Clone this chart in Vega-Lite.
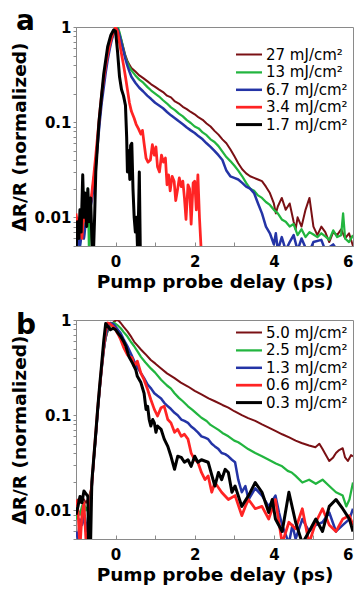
{
  "$schema": "https://vega.github.io/schema/vega-lite/v6.json",
  "padding": {"left": 10, "top": 7, "right": 4, "bottom": 2},
  "spacing": 20,
  "config": {
    "font": "DejaVu Sans",
    "view": {"stroke": "#8a8a8a"},
    "axis": {"domainColor": "#8a8a8a", "tickColor": "#8a8a8a", "labelFont": "DejaVu Sans", "labelFontWeight": "bold", "labelFontSize": 15, "labelColor": "black", "titleFont": "DejaVu Sans", "titleFontWeight": "bold", "titleFontSize": 18.5, "titleColor": "black", "grid": false},
    "legend": {"padding": 0, "symbolType": "M-2,0H2", "symbolSize": 169, "labelFont": "DejaVu Sans", "labelFontSize": 15, "labelColor": "black", "labelOffset": 9}
  },
  "vconcat": [
    {
      "width": 277, "height": 219,
      "title": {"text": "a", "anchor": "start", "frame": "bounds", "fontSize": 28, "fontWeight": "bold", "font": "DejaVu Sans", "baseline": "alphabetic", "offset": -38, "dx": 5},
      "data": {"values": [
        {"s":"27 mJ/cm²","x":-1,"y":0.006},{"s":"27 mJ/cm²","x":-0.95,"y":0.009},{"s":"27 mJ/cm²","x":-0.9,"y":0.007},{"s":"27 mJ/cm²","x":-0.85,"y":0.011},{"s":"27 mJ/cm²","x":-0.8,"y":0.009},{"s":"27 mJ/cm²","x":-0.75,"y":0.012},{"s":"27 mJ/cm²","x":-0.7,"y":0.01},{"s":"27 mJ/cm²","x":-0.65,"y":0.013},{"s":"27 mJ/cm²","x":-0.6,"y":0.017},{"s":"27 mJ/cm²","x":-0.55,"y":0.026},{"s":"27 mJ/cm²","x":-0.5,"y":0.04},{"s":"27 mJ/cm²","x":-0.45,"y":0.07},{"s":"27 mJ/cm²","x":-0.4,"y":0.12},{"s":"27 mJ/cm²","x":-0.35,"y":0.19},{"s":"27 mJ/cm²","x":-0.3,"y":0.27},{"s":"27 mJ/cm²","x":-0.25,"y":0.38},{"s":"27 mJ/cm²","x":-0.2,"y":0.5},{"s":"27 mJ/cm²","x":-0.15,"y":0.63},{"s":"27 mJ/cm²","x":-0.1,"y":0.76},{"s":"27 mJ/cm²","x":-0.05,"y":0.88},{"s":"27 mJ/cm²","x":0.02,"y":1.0},{"s":"27 mJ/cm²","x":0.05,"y":0.97},{"s":"27 mJ/cm²","x":0.1,"y":0.85},{"s":"27 mJ/cm²","x":0.15,"y":0.72},{"s":"27 mJ/cm²","x":0.2,"y":0.6},{"s":"27 mJ/cm²","x":0.25,"y":0.5},{"s":"27 mJ/cm²","x":0.3,"y":0.44},{"s":"27 mJ/cm²","x":0.35,"y":0.4},{"s":"27 mJ/cm²","x":0.4,"y":0.37},{"s":"27 mJ/cm²","x":0.5,"y":0.34},{"s":"27 mJ/cm²","x":0.6,"y":0.31},{"s":"27 mJ/cm²","x":0.7,"y":0.29},{"s":"27 mJ/cm²","x":0.8,"y":0.27},{"s":"27 mJ/cm²","x":0.9,"y":0.25},{"s":"27 mJ/cm²","x":1.0,"y":0.235},{"s":"27 mJ/cm²","x":1.1,"y":0.22},{"s":"27 mJ/cm²","x":1.2,"y":0.207},{"s":"27 mJ/cm²","x":1.3,"y":0.19},{"s":"27 mJ/cm²","x":1.4,"y":0.182},{"s":"27 mJ/cm²","x":1.5,"y":0.165},{"s":"27 mJ/cm²","x":1.6,"y":0.157},{"s":"27 mJ/cm²","x":1.7,"y":0.145},{"s":"27 mJ/cm²","x":1.8,"y":0.137},{"s":"27 mJ/cm²","x":1.9,"y":0.128},{"s":"27 mJ/cm²","x":2.0,"y":0.121},{"s":"27 mJ/cm²","x":2.1,"y":0.112},{"s":"27 mJ/cm²","x":2.2,"y":0.106},{"s":"27 mJ/cm²","x":2.3,"y":0.097},{"s":"27 mJ/cm²","x":2.4,"y":0.09},{"s":"27 mJ/cm²","x":2.5,"y":0.081},{"s":"27 mJ/cm²","x":2.6,"y":0.074},{"s":"27 mJ/cm²","x":2.7,"y":0.066},{"s":"27 mJ/cm²","x":2.8,"y":0.06},{"s":"27 mJ/cm²","x":2.9,"y":0.052},{"s":"27 mJ/cm²","x":3.0,"y":0.044},{"s":"27 mJ/cm²","x":3.1,"y":0.037},{"s":"27 mJ/cm²","x":3.2,"y":0.032},{"s":"27 mJ/cm²","x":3.3,"y":0.029},{"s":"27 mJ/cm²","x":3.4,"y":0.027},{"s":"27 mJ/cm²","x":3.5,"y":0.026},{"s":"27 mJ/cm²","x":3.6,"y":0.025},{"s":"27 mJ/cm²","x":3.7,"y":0.024},{"s":"27 mJ/cm²","x":3.8,"y":0.021},{"s":"27 mJ/cm²","x":3.9,"y":0.018},{"s":"27 mJ/cm²","x":4.0,"y":0.014},{"s":"27 mJ/cm²","x":4.05,"y":0.011},{"s":"27 mJ/cm²","x":4.1,"y":0.013},{"s":"27 mJ/cm²","x":4.2,"y":0.016},{"s":"27 mJ/cm²","x":4.3,"y":0.012},{"s":"27 mJ/cm²","x":4.4,"y":0.014},{"s":"27 mJ/cm²","x":4.5,"y":0.009},{"s":"27 mJ/cm²","x":4.55,"y":0.0075},{"s":"27 mJ/cm²","x":4.6,"y":0.01},{"s":"27 mJ/cm²","x":4.7,"y":0.008},{"s":"27 mJ/cm²","x":4.8,"y":0.012},{"s":"27 mJ/cm²","x":4.9,"y":0.016},{"s":"27 mJ/cm²","x":5.0,"y":0.008},{"s":"27 mJ/cm²","x":5.1,"y":0.0065},{"s":"27 mJ/cm²","x":5.2,"y":0.008},{"s":"27 mJ/cm²","x":5.3,"y":0.007},{"s":"27 mJ/cm²","x":5.4,"y":0.0055},{"s":"27 mJ/cm²","x":5.5,"y":0.007},{"s":"27 mJ/cm²","x":5.6,"y":0.0065},{"s":"27 mJ/cm²","x":5.7,"y":0.0075},{"s":"27 mJ/cm²","x":5.8,"y":0.006},{"s":"27 mJ/cm²","x":5.9,"y":0.0068},{"s":"27 mJ/cm²","x":6.0,"y":0.005},

        {"s":"13 mJ/cm²","x":-1,"y":0.004},{"s":"13 mJ/cm²","x":-0.95,"y":0.006},{"s":"13 mJ/cm²","x":-0.9,"y":0.005},{"s":"13 mJ/cm²","x":-0.85,"y":0.008},{"s":"13 mJ/cm²","x":-0.8,"y":0.006},{"s":"13 mJ/cm²","x":-0.75,"y":0.012},{"s":"13 mJ/cm²","x":-0.7,"y":0.02},{"s":"13 mJ/cm²","x":-0.67,"y":0.004},{"s":"13 mJ/cm²","x":-0.63,"y":0.014},{"s":"13 mJ/cm²","x":-0.6,"y":0.017},{"s":"13 mJ/cm²","x":-0.55,"y":0.026},{"s":"13 mJ/cm²","x":-0.5,"y":0.04},{"s":"13 mJ/cm²","x":-0.45,"y":0.068},{"s":"13 mJ/cm²","x":-0.4,"y":0.115},{"s":"13 mJ/cm²","x":-0.35,"y":0.18},{"s":"13 mJ/cm²","x":-0.3,"y":0.26},{"s":"13 mJ/cm²","x":-0.25,"y":0.37},{"s":"13 mJ/cm²","x":-0.2,"y":0.49},{"s":"13 mJ/cm²","x":-0.15,"y":0.62},{"s":"13 mJ/cm²","x":-0.1,"y":0.75},{"s":"13 mJ/cm²","x":-0.05,"y":0.87},{"s":"13 mJ/cm²","x":0.03,"y":1.0},{"s":"13 mJ/cm²","x":0.06,"y":0.99},{"s":"13 mJ/cm²","x":0.1,"y":0.88},{"s":"13 mJ/cm²","x":0.15,"y":0.72},{"s":"13 mJ/cm²","x":0.2,"y":0.58},{"s":"13 mJ/cm²","x":0.25,"y":0.48},{"s":"13 mJ/cm²","x":0.3,"y":0.42},{"s":"13 mJ/cm²","x":0.35,"y":0.38},{"s":"13 mJ/cm²","x":0.4,"y":0.35},{"s":"13 mJ/cm²","x":0.5,"y":0.31},{"s":"13 mJ/cm²","x":0.6,"y":0.28},{"s":"13 mJ/cm²","x":0.7,"y":0.26},{"s":"13 mJ/cm²","x":0.8,"y":0.235},{"s":"13 mJ/cm²","x":0.9,"y":0.215},{"s":"13 mJ/cm²","x":1.0,"y":0.2},{"s":"13 mJ/cm²","x":1.1,"y":0.186},{"s":"13 mJ/cm²","x":1.2,"y":0.17},{"s":"13 mJ/cm²","x":1.3,"y":0.157},{"s":"13 mJ/cm²","x":1.4,"y":0.143},{"s":"13 mJ/cm²","x":1.5,"y":0.134},{"s":"13 mJ/cm²","x":1.6,"y":0.123},{"s":"13 mJ/cm²","x":1.7,"y":0.115},{"s":"13 mJ/cm²","x":1.8,"y":0.105},{"s":"13 mJ/cm²","x":1.9,"y":0.098},{"s":"13 mJ/cm²","x":2.0,"y":0.09},{"s":"13 mJ/cm²","x":2.1,"y":0.086},{"s":"13 mJ/cm²","x":2.2,"y":0.078},{"s":"13 mJ/cm²","x":2.3,"y":0.073},{"s":"13 mJ/cm²","x":2.4,"y":0.066},{"s":"13 mJ/cm²","x":2.5,"y":0.062},{"s":"13 mJ/cm²","x":2.6,"y":0.056},{"s":"13 mJ/cm²","x":2.7,"y":0.049},{"s":"13 mJ/cm²","x":2.8,"y":0.043},{"s":"13 mJ/cm²","x":2.9,"y":0.039},{"s":"13 mJ/cm²","x":3.0,"y":0.035},{"s":"13 mJ/cm²","x":3.1,"y":0.031},{"s":"13 mJ/cm²","x":3.2,"y":0.027},{"s":"13 mJ/cm²","x":3.3,"y":0.023},{"s":"13 mJ/cm²","x":3.4,"y":0.02},{"s":"13 mJ/cm²","x":3.5,"y":0.019},{"s":"13 mJ/cm²","x":3.6,"y":0.017},{"s":"13 mJ/cm²","x":3.7,"y":0.016},{"s":"13 mJ/cm²","x":3.8,"y":0.0145},{"s":"13 mJ/cm²","x":3.9,"y":0.0135},{"s":"13 mJ/cm²","x":4.0,"y":0.012},{"s":"13 mJ/cm²","x":4.1,"y":0.011},{"s":"13 mJ/cm²","x":4.2,"y":0.0095},{"s":"13 mJ/cm²","x":4.3,"y":0.009},{"s":"13 mJ/cm²","x":4.4,"y":0.008},{"s":"13 mJ/cm²","x":4.5,"y":0.0085},{"s":"13 mJ/cm²","x":4.6,"y":0.0065},{"s":"13 mJ/cm²","x":4.7,"y":0.0075},{"s":"13 mJ/cm²","x":4.8,"y":0.0062},{"s":"13 mJ/cm²","x":4.9,"y":0.007},{"s":"13 mJ/cm²","x":5.0,"y":0.0066},{"s":"13 mJ/cm²","x":5.1,"y":0.0062},{"s":"13 mJ/cm²","x":5.2,"y":0.0068},{"s":"13 mJ/cm²","x":5.3,"y":0.0063},{"s":"13 mJ/cm²","x":5.4,"y":0.0058},{"s":"13 mJ/cm²","x":5.5,"y":0.0073},{"s":"13 mJ/cm²","x":5.6,"y":0.0062},{"s":"13 mJ/cm²","x":5.7,"y":0.0065},{"s":"13 mJ/cm²","x":5.75,"y":0.011},{"s":"13 mJ/cm²","x":5.8,"y":0.006},{"s":"13 mJ/cm²","x":5.9,"y":0.0055},{"s":"13 mJ/cm²","x":6.0,"y":0.0065},

        {"s":"6.7 mJ/cm²","x":-1,"y":0.004},{"s":"6.7 mJ/cm²","x":-0.95,"y":0.006},{"s":"6.7 mJ/cm²","x":-0.9,"y":0.005},{"s":"6.7 mJ/cm²","x":-0.85,"y":0.007},{"s":"6.7 mJ/cm²","x":-0.8,"y":0.006},{"s":"6.7 mJ/cm²","x":-0.75,"y":0.009},{"s":"6.7 mJ/cm²","x":-0.7,"y":0.011},{"s":"6.7 mJ/cm²","x":-0.65,"y":0.012},{"s":"6.7 mJ/cm²","x":-0.6,"y":0.015},{"s":"6.7 mJ/cm²","x":-0.55,"y":0.022},{"s":"6.7 mJ/cm²","x":-0.5,"y":0.035},{"s":"6.7 mJ/cm²","x":-0.45,"y":0.06},{"s":"6.7 mJ/cm²","x":-0.4,"y":0.1},{"s":"6.7 mJ/cm²","x":-0.35,"y":0.16},{"s":"6.7 mJ/cm²","x":-0.3,"y":0.23},{"s":"6.7 mJ/cm²","x":-0.25,"y":0.33},{"s":"6.7 mJ/cm²","x":-0.2,"y":0.45},{"s":"6.7 mJ/cm²","x":-0.15,"y":0.58},{"s":"6.7 mJ/cm²","x":-0.1,"y":0.72},{"s":"6.7 mJ/cm²","x":-0.05,"y":0.86},{"s":"6.7 mJ/cm²","x":0.0,"y":0.98},{"s":"6.7 mJ/cm²","x":0.05,"y":0.95},{"s":"6.7 mJ/cm²","x":0.1,"y":0.82},{"s":"6.7 mJ/cm²","x":0.15,"y":0.68},{"s":"6.7 mJ/cm²","x":0.2,"y":0.56},{"s":"6.7 mJ/cm²","x":0.25,"y":0.46},{"s":"6.7 mJ/cm²","x":0.3,"y":0.39},{"s":"6.7 mJ/cm²","x":0.35,"y":0.34},{"s":"6.7 mJ/cm²","x":0.4,"y":0.3},{"s":"6.7 mJ/cm²","x":0.5,"y":0.26},{"s":"6.7 mJ/cm²","x":0.6,"y":0.23},{"s":"6.7 mJ/cm²","x":0.7,"y":0.21},{"s":"6.7 mJ/cm²","x":0.8,"y":0.19},{"s":"6.7 mJ/cm²","x":0.9,"y":0.175},{"s":"6.7 mJ/cm²","x":1.0,"y":0.16},{"s":"6.7 mJ/cm²","x":1.1,"y":0.15},{"s":"6.7 mJ/cm²","x":1.2,"y":0.14},{"s":"6.7 mJ/cm²","x":1.3,"y":0.128},{"s":"6.7 mJ/cm²","x":1.4,"y":0.118},{"s":"6.7 mJ/cm²","x":1.5,"y":0.11},{"s":"6.7 mJ/cm²","x":1.6,"y":0.102},{"s":"6.7 mJ/cm²","x":1.7,"y":0.095},{"s":"6.7 mJ/cm²","x":1.8,"y":0.088},{"s":"6.7 mJ/cm²","x":1.9,"y":0.082},{"s":"6.7 mJ/cm²","x":2.0,"y":0.077},{"s":"6.7 mJ/cm²","x":2.1,"y":0.071},{"s":"6.7 mJ/cm²","x":2.2,"y":0.066},{"s":"6.7 mJ/cm²","x":2.3,"y":0.06},{"s":"6.7 mJ/cm²","x":2.4,"y":0.055},{"s":"6.7 mJ/cm²","x":2.5,"y":0.05},{"s":"6.7 mJ/cm²","x":2.6,"y":0.045},{"s":"6.7 mJ/cm²","x":2.7,"y":0.04},{"s":"6.7 mJ/cm²","x":2.8,"y":0.031},{"s":"6.7 mJ/cm²","x":2.9,"y":0.027},{"s":"6.7 mJ/cm²","x":3.0,"y":0.026},{"s":"6.7 mJ/cm²","x":3.1,"y":0.025},{"s":"6.7 mJ/cm²","x":3.2,"y":0.023},{"s":"6.7 mJ/cm²","x":3.3,"y":0.021},{"s":"6.7 mJ/cm²","x":3.4,"y":0.02},{"s":"6.7 mJ/cm²","x":3.5,"y":0.018},{"s":"6.7 mJ/cm²","x":3.6,"y":0.014},{"s":"6.7 mJ/cm²","x":3.7,"y":0.011},{"s":"6.7 mJ/cm²","x":3.8,"y":0.008},{"s":"6.7 mJ/cm²","x":3.9,"y":0.0068},{"s":"6.7 mJ/cm²","x":4.0,"y":0.0052},{"s":"6.7 mJ/cm²","x":4.05,"y":0.0068},{"s":"6.7 mJ/cm²","x":4.1,"y":0.0045},{"s":"6.7 mJ/cm²","x":4.2,"y":0.0062},{"s":"6.7 mJ/cm²","x":4.3,"y":0.0045},{"s":"6.7 mJ/cm²","x":4.4,"y":0.0055},{"s":"6.7 mJ/cm²","x":4.5,"y":0.0065},{"s":"6.7 mJ/cm²","x":4.6,"y":0.0045},{"s":"6.7 mJ/cm²","x":4.7,"y":0.006},{"s":"6.7 mJ/cm²","x":4.8,"y":0.0048},{"s":"6.7 mJ/cm²","x":4.9,"y":0.0044},{"s":"6.7 mJ/cm²","x":5.0,"y":0.0055},{"s":"6.7 mJ/cm²","x":5.2,"y":0.0058},{"s":"6.7 mJ/cm²","x":5.3,"y":0.0045},{"s":"6.7 mJ/cm²","x":5.5,"y":0.0052},{"s":"6.7 mJ/cm²","x":5.6,"y":0.0045},{"s":"6.7 mJ/cm²","x":5.8,"y":0.004},{"s":"6.7 mJ/cm²","x":6.0,"y":0.004},

        {"s":"3.4 mJ/cm²","x":-1,"y":0.011},{"s":"3.4 mJ/cm²","x":-0.95,"y":0.008},{"s":"3.4 mJ/cm²","x":-0.9,"y":0.01},{"s":"3.4 mJ/cm²","x":-0.85,"y":0.006},{"s":"3.4 mJ/cm²","x":-0.8,"y":0.012},{"s":"3.4 mJ/cm²","x":-0.75,"y":0.009},{"s":"3.4 mJ/cm²","x":-0.7,"y":0.014},{"s":"3.4 mJ/cm²","x":-0.65,"y":0.012},{"s":"3.4 mJ/cm²","x":-0.6,"y":0.018},{"s":"3.4 mJ/cm²","x":-0.55,"y":0.028},{"s":"3.4 mJ/cm²","x":-0.5,"y":0.045},{"s":"3.4 mJ/cm²","x":-0.45,"y":0.075},{"s":"3.4 mJ/cm²","x":-0.4,"y":0.125},{"s":"3.4 mJ/cm²","x":-0.35,"y":0.2},{"s":"3.4 mJ/cm²","x":-0.3,"y":0.28},{"s":"3.4 mJ/cm²","x":-0.25,"y":0.39},{"s":"3.4 mJ/cm²","x":-0.2,"y":0.51},{"s":"3.4 mJ/cm²","x":-0.15,"y":0.64},{"s":"3.4 mJ/cm²","x":-0.1,"y":0.77},{"s":"3.4 mJ/cm²","x":-0.05,"y":0.89},{"s":"3.4 mJ/cm²","x":0.0,"y":1.0},{"s":"3.4 mJ/cm²","x":0.05,"y":0.9},{"s":"3.4 mJ/cm²","x":0.1,"y":0.68},{"s":"3.4 mJ/cm²","x":0.15,"y":0.52},{"s":"3.4 mJ/cm²","x":0.2,"y":0.4},{"s":"3.4 mJ/cm²","x":0.25,"y":0.3},{"s":"3.4 mJ/cm²","x":0.3,"y":0.22},{"s":"3.4 mJ/cm²","x":0.35,"y":0.16},{"s":"3.4 mJ/cm²","x":0.4,"y":0.13},{"s":"3.4 mJ/cm²","x":0.47,"y":0.11},{"s":"3.4 mJ/cm²","x":0.52,"y":0.095},{"s":"3.4 mJ/cm²","x":0.58,"y":0.085},{"s":"3.4 mJ/cm²","x":0.64,"y":0.075},{"s":"3.4 mJ/cm²","x":0.68,"y":0.082},{"s":"3.4 mJ/cm²","x":0.72,"y":0.06},{"s":"3.4 mJ/cm²","x":0.77,"y":0.042},{"s":"3.4 mJ/cm²","x":0.82,"y":0.038},{"s":"3.4 mJ/cm²","x":0.88,"y":0.04},{"s":"3.4 mJ/cm²","x":0.93,"y":0.058},{"s":"3.4 mJ/cm²","x":0.98,"y":0.045},{"s":"3.4 mJ/cm²","x":1.02,"y":0.055},{"s":"3.4 mJ/cm²","x":1.06,"y":0.034},{"s":"3.4 mJ/cm²","x":1.11,"y":0.03},{"s":"3.4 mJ/cm²","x":1.16,"y":0.045},{"s":"3.4 mJ/cm²","x":1.21,"y":0.038},{"s":"3.4 mJ/cm²","x":1.26,"y":0.042},{"s":"3.4 mJ/cm²","x":1.3,"y":0.022},{"s":"3.4 mJ/cm²","x":1.34,"y":0.028},{"s":"3.4 mJ/cm²","x":1.38,"y":0.019},{"s":"3.4 mJ/cm²","x":1.43,"y":0.027},{"s":"3.4 mJ/cm²","x":1.48,"y":0.024},{"s":"3.4 mJ/cm²","x":1.52,"y":0.015},{"s":"3.4 mJ/cm²","x":1.57,"y":0.02},{"s":"3.4 mJ/cm²","x":1.61,"y":0.026},{"s":"3.4 mJ/cm²","x":1.66,"y":0.021},{"s":"3.4 mJ/cm²","x":1.7,"y":0.024},{"s":"3.4 mJ/cm²","x":1.74,"y":0.016},{"s":"3.4 mJ/cm²","x":1.78,"y":0.0095},{"s":"3.4 mJ/cm²","x":1.83,"y":0.022},{"s":"3.4 mJ/cm²","x":1.87,"y":0.02},{"s":"3.4 mJ/cm²","x":1.91,"y":0.0085},{"s":"3.4 mJ/cm²","x":1.96,"y":0.023},{"s":"3.4 mJ/cm²","x":2.0,"y":0.024},{"s":"3.4 mJ/cm²","x":2.04,"y":0.012},{"s":"3.4 mJ/cm²","x":2.08,"y":0.028},{"s":"3.4 mJ/cm²","x":2.12,"y":0.01},{"s":"3.4 mJ/cm²","x":2.17,"y":0.004},

        {"s":"1.7 mJ/cm²","x":-1,"y":0.004},{"s":"1.7 mJ/cm²","x":-0.97,"y":0.009},{"s":"1.7 mJ/cm²","x":-0.93,"y":0.006},{"s":"1.7 mJ/cm²","x":-0.9,"y":0.012},{"s":"1.7 mJ/cm²","x":-0.87,"y":0.007},{"s":"1.7 mJ/cm²","x":-0.83,"y":0.028},{"s":"1.7 mJ/cm²","x":-0.8,"y":0.01},{"s":"1.7 mJ/cm²","x":-0.77,"y":0.018},{"s":"1.7 mJ/cm²","x":-0.73,"y":0.008},{"s":"1.7 mJ/cm²","x":-0.7,"y":0.02},{"s":"1.7 mJ/cm²","x":-0.67,"y":0.009},{"s":"1.7 mJ/cm²","x":-0.63,"y":0.016},{"s":"1.7 mJ/cm²","x":-0.6,"y":0.006},{"s":"1.7 mJ/cm²","x":-0.57,"y":0.003},{"s":"1.7 mJ/cm²","x":-0.53,"y":0.01},{"s":"1.7 mJ/cm²","x":-0.5,"y":0.03},{"s":"1.7 mJ/cm²","x":-0.42,"y":0.1},{"s":"1.7 mJ/cm²","x":-0.3,"y":0.32},{"s":"1.7 mJ/cm²","x":-0.2,"y":0.62},{"s":"1.7 mJ/cm²","x":-0.12,"y":0.82},{"s":"1.7 mJ/cm²","x":-0.05,"y":0.93},{"s":"1.7 mJ/cm²","x":0.0,"y":0.9},{"s":"1.7 mJ/cm²","x":0.05,"y":0.55},{"s":"1.7 mJ/cm²","x":0.1,"y":0.3},{"s":"1.7 mJ/cm²","x":0.15,"y":0.22},{"s":"1.7 mJ/cm²","x":0.2,"y":0.19},{"s":"1.7 mJ/cm²","x":0.25,"y":0.15},{"s":"1.7 mJ/cm²","x":0.28,"y":0.07},{"s":"1.7 mJ/cm²","x":0.3,"y":0.03},{"s":"1.7 mJ/cm²","x":0.33,"y":0.05},{"s":"1.7 mJ/cm²","x":0.36,"y":0.025},{"s":"1.7 mJ/cm²","x":0.38,"y":0.057},{"s":"1.7 mJ/cm²","x":0.41,"y":0.06},{"s":"1.7 mJ/cm²","x":0.44,"y":0.02},{"s":"1.7 mJ/cm²","x":0.47,"y":0.01},{"s":"1.7 mJ/cm²","x":0.5,"y":0.007},{"s":"1.7 mJ/cm²","x":0.53,"y":0.01},{"s":"1.7 mJ/cm²","x":0.56,"y":0.004},{"s":"1.7 mJ/cm²","x":0.6,"y":0.03},{"s":"1.7 mJ/cm²","x":0.63,"y":0.003}
      ]},
      "mark": {"type": "line", "clip": true, "strokeJoin": "round"},
      "encoding": {
        "x": {"field": "x", "type": "quantitative", "scale": {"domain": [-1, 6], "nice": false, "zero": false},
              "axis": {"values": [-1,0,1,2,3,4,5,6], "labelExpr": "datum.value % 2 == 0 ? datum.label : ''", "tickSize": -4, "labelPadding": 12, "title": "Pump probe delay (ps)", "titlePadding": 3}},
        "y": {"field": "y", "type": "quantitative", "scale": {"type": "log", "domain": [0.005, 1], "nice": false},
              "axis": {"values": [0.005,0.006,0.007,0.008,0.009,0.01,0.02,0.03,0.04,0.05,0.06,0.07,0.08,0.09,0.1,0.2,0.3,0.4,0.5,0.6,0.7,0.8,0.9,1],
                       "labelExpr": "datum.value == 1 ? '1' : datum.value == 0.1 ? '0.1' : datum.value == 0.01 ? '0.01' : ''",
                       "tickSize": 3, "labelPadding": 2, "title": "ΔR/R (normalized)", "titlePadding": 4}},
        "color": {"field": "s", "type": "nominal", "scale": {"domain": ["27 mJ/cm²","13 mJ/cm²","6.7 mJ/cm²","3.4 mJ/cm²","1.7 mJ/cm²"], "range": ["#7a1014","#22b53f","#2434a6","#ff2424","#000000"]},
                  "legend": {"title": null, "orient": "none", "legendX": 165, "legendY": 20, "rowPadding": 1.4}},
        "strokeWidth": {"field": "s", "type": "nominal", "scale": {"domain": ["27 mJ/cm²","13 mJ/cm²","6.7 mJ/cm²","3.4 mJ/cm²","1.7 mJ/cm²"], "range": [2, 3, 2, 2, 2.2]},
                  "legend": {"title": null, "orient": "none", "legendX": 165, "legendY": 20, "rowPadding": 1.4}}
      }
    },
    {
      "width": 277, "height": 219,
      "title": {"text": "b", "anchor": "start", "frame": "bounds", "fontSize": 28, "fontWeight": "bold", "font": "DejaVu Sans", "baseline": "alphabetic", "offset": -49, "dx": 5},
      "data": {"values": [
        {"s":"5.0 mJ/cm²","x":-1,"y":0.011},{"s":"5.0 mJ/cm²","x":-0.95,"y":0.013},{"s":"5.0 mJ/cm²","x":-0.9,"y":0.012},{"s":"5.0 mJ/cm²","x":-0.85,"y":0.014},{"s":"5.0 mJ/cm²","x":-0.8,"y":0.013},{"s":"5.0 mJ/cm²","x":-0.75,"y":0.012},{"s":"5.0 mJ/cm²","x":-0.7,"y":0.013},{"s":"5.0 mJ/cm²","x":-0.65,"y":0.015},{"s":"5.0 mJ/cm²","x":-0.6,"y":0.018},{"s":"5.0 mJ/cm²","x":-0.55,"y":0.034},{"s":"5.0 mJ/cm²","x":-0.5,"y":0.06},{"s":"5.0 mJ/cm²","x":-0.45,"y":0.11},{"s":"5.0 mJ/cm²","x":-0.4,"y":0.19},{"s":"5.0 mJ/cm²","x":-0.35,"y":0.32},{"s":"5.0 mJ/cm²","x":-0.3,"y":0.48},{"s":"5.0 mJ/cm²","x":-0.25,"y":0.64},{"s":"5.0 mJ/cm²","x":-0.2,"y":0.76},{"s":"5.0 mJ/cm²","x":-0.15,"y":0.84},{"s":"5.0 mJ/cm²","x":-0.1,"y":0.9},{"s":"5.0 mJ/cm²","x":-0.05,"y":0.95},{"s":"5.0 mJ/cm²","x":0.02,"y":1.0},{"s":"5.0 mJ/cm²","x":0.07,"y":0.99},{"s":"5.0 mJ/cm²","x":0.13,"y":0.93},{"s":"5.0 mJ/cm²","x":0.2,"y":0.85},{"s":"5.0 mJ/cm²","x":0.3,"y":0.76},{"s":"5.0 mJ/cm²","x":0.4,"y":0.66},{"s":"5.0 mJ/cm²","x":0.47,"y":0.59},{"s":"5.0 mJ/cm²","x":0.55,"y":0.54},{"s":"5.0 mJ/cm²","x":0.64,"y":0.49},{"s":"5.0 mJ/cm²","x":0.75,"y":0.44},{"s":"5.0 mJ/cm²","x":0.89,"y":0.38},{"s":"5.0 mJ/cm²","x":1.0,"y":0.35},{"s":"5.0 mJ/cm²","x":1.15,"y":0.31},{"s":"5.0 mJ/cm²","x":1.3,"y":0.275},{"s":"5.0 mJ/cm²","x":1.49,"y":0.245},{"s":"5.0 mJ/cm²","x":1.65,"y":0.22},{"s":"5.0 mJ/cm²","x":1.83,"y":0.2},{"s":"5.0 mJ/cm²","x":2.0,"y":0.18},{"s":"5.0 mJ/cm²","x":2.17,"y":0.165},{"s":"5.0 mJ/cm²","x":2.35,"y":0.15},{"s":"5.0 mJ/cm²","x":2.51,"y":0.14},{"s":"5.0 mJ/cm²","x":2.7,"y":0.128},{"s":"5.0 mJ/cm²","x":2.85,"y":0.12},{"s":"5.0 mJ/cm²","x":3.0,"y":0.11},{"s":"5.0 mJ/cm²","x":3.19,"y":0.1},{"s":"5.0 mJ/cm²","x":3.35,"y":0.093},{"s":"5.0 mJ/cm²","x":3.53,"y":0.087},{"s":"5.0 mJ/cm²","x":3.7,"y":0.08},{"s":"5.0 mJ/cm²","x":3.87,"y":0.074},{"s":"5.0 mJ/cm²","x":4.05,"y":0.068},{"s":"5.0 mJ/cm²","x":4.21,"y":0.063},{"s":"5.0 mJ/cm²","x":4.4,"y":0.058},{"s":"5.0 mJ/cm²","x":4.55,"y":0.054},{"s":"5.0 mJ/cm²","x":4.7,"y":0.051},{"s":"5.0 mJ/cm²","x":4.89,"y":0.048},{"s":"5.0 mJ/cm²","x":5.05,"y":0.046},{"s":"5.0 mJ/cm²","x":5.15,"y":0.05},{"s":"5.0 mJ/cm²","x":5.23,"y":0.044},{"s":"5.0 mJ/cm²","x":5.3,"y":0.039},{"s":"5.0 mJ/cm²","x":5.4,"y":0.033},{"s":"5.0 mJ/cm²","x":5.5,"y":0.036},{"s":"5.0 mJ/cm²","x":5.57,"y":0.04},{"s":"5.0 mJ/cm²","x":5.65,"y":0.043},{"s":"5.0 mJ/cm²","x":5.74,"y":0.045},{"s":"5.0 mJ/cm²","x":5.8,"y":0.036},{"s":"5.0 mJ/cm²","x":5.87,"y":0.033},{"s":"5.0 mJ/cm²","x":5.95,"y":0.038},{"s":"5.0 mJ/cm²","x":6.0,"y":0.037},

        {"s":"2.5 mJ/cm²","x":-1,"y":0.008},{"s":"2.5 mJ/cm²","x":-0.95,"y":0.01},{"s":"2.5 mJ/cm²","x":-0.9,"y":0.009},{"s":"2.5 mJ/cm²","x":-0.85,"y":0.011},{"s":"2.5 mJ/cm²","x":-0.8,"y":0.012},{"s":"2.5 mJ/cm²","x":-0.75,"y":0.01},{"s":"2.5 mJ/cm²","x":-0.7,"y":0.011},{"s":"2.5 mJ/cm²","x":-0.65,"y":0.013},{"s":"2.5 mJ/cm²","x":-0.6,"y":0.018},{"s":"2.5 mJ/cm²","x":-0.55,"y":0.034},{"s":"2.5 mJ/cm²","x":-0.5,"y":0.06},{"s":"2.5 mJ/cm²","x":-0.45,"y":0.11},{"s":"2.5 mJ/cm²","x":-0.4,"y":0.19},{"s":"2.5 mJ/cm²","x":-0.35,"y":0.31},{"s":"2.5 mJ/cm²","x":-0.3,"y":0.47},{"s":"2.5 mJ/cm²","x":-0.25,"y":0.66},{"s":"2.5 mJ/cm²","x":-0.2,"y":0.78},{"s":"2.5 mJ/cm²","x":-0.15,"y":0.85},{"s":"2.5 mJ/cm²","x":-0.1,"y":0.9},{"s":"2.5 mJ/cm²","x":-0.04,"y":0.94},{"s":"2.5 mJ/cm²","x":0.05,"y":0.88},{"s":"2.5 mJ/cm²","x":0.13,"y":0.82},{"s":"2.5 mJ/cm²","x":0.2,"y":0.75},{"s":"2.5 mJ/cm²","x":0.3,"y":0.67},{"s":"2.5 mJ/cm²","x":0.4,"y":0.58},{"s":"2.5 mJ/cm²","x":0.47,"y":0.53},{"s":"2.5 mJ/cm²","x":0.55,"y":0.47},{"s":"2.5 mJ/cm²","x":0.64,"y":0.41},{"s":"2.5 mJ/cm²","x":0.75,"y":0.36},{"s":"2.5 mJ/cm²","x":0.89,"y":0.31},{"s":"2.5 mJ/cm²","x":1.0,"y":0.28},{"s":"2.5 mJ/cm²","x":1.15,"y":0.236},{"s":"2.5 mJ/cm²","x":1.3,"y":0.205},{"s":"2.5 mJ/cm²","x":1.4,"y":0.19},{"s":"2.5 mJ/cm²","x":1.49,"y":0.17},{"s":"2.5 mJ/cm²","x":1.6,"y":0.152},{"s":"2.5 mJ/cm²","x":1.7,"y":0.14},{"s":"2.5 mJ/cm²","x":1.83,"y":0.124},{"s":"2.5 mJ/cm²","x":1.95,"y":0.113},{"s":"2.5 mJ/cm²","x":2.05,"y":0.104},{"s":"2.5 mJ/cm²","x":2.17,"y":0.094},{"s":"2.5 mJ/cm²","x":2.3,"y":0.087},{"s":"2.5 mJ/cm²","x":2.4,"y":0.079},{"s":"2.5 mJ/cm²","x":2.51,"y":0.074},{"s":"2.5 mJ/cm²","x":2.6,"y":0.07},{"s":"2.5 mJ/cm²","x":2.7,"y":0.065},{"s":"2.5 mJ/cm²","x":2.85,"y":0.06},{"s":"2.5 mJ/cm²","x":3.0,"y":0.054},{"s":"2.5 mJ/cm²","x":3.1,"y":0.052},{"s":"2.5 mJ/cm²","x":3.19,"y":0.049},{"s":"2.5 mJ/cm²","x":3.35,"y":0.044},{"s":"2.5 mJ/cm²","x":3.53,"y":0.04},{"s":"2.5 mJ/cm²","x":3.7,"y":0.037},{"s":"2.5 mJ/cm²","x":3.87,"y":0.034},{"s":"2.5 mJ/cm²","x":4.05,"y":0.031},{"s":"2.5 mJ/cm²","x":4.21,"y":0.029},{"s":"2.5 mJ/cm²","x":4.35,"y":0.026},{"s":"2.5 mJ/cm²","x":4.45,"y":0.025},{"s":"2.5 mJ/cm²","x":4.55,"y":0.023},{"s":"2.5 mJ/cm²","x":4.72,"y":0.0196},{"s":"2.5 mJ/cm²","x":4.89,"y":0.021},{"s":"2.5 mJ/cm²","x":5.06,"y":0.019},{"s":"2.5 mJ/cm²","x":5.23,"y":0.021},{"s":"2.5 mJ/cm²","x":5.4,"y":0.018},{"s":"2.5 mJ/cm²","x":5.57,"y":0.0155},{"s":"2.5 mJ/cm²","x":5.74,"y":0.0143},{"s":"2.5 mJ/cm²","x":5.83,"y":0.011},{"s":"2.5 mJ/cm²","x":5.91,"y":0.013},{"s":"2.5 mJ/cm²","x":6.0,"y":0.0196},

        {"s":"1.3 mJ/cm²","x":-1,"y":0.006},{"s":"1.3 mJ/cm²","x":-0.95,"y":0.005},{"s":"1.3 mJ/cm²","x":-0.9,"y":0.008},{"s":"1.3 mJ/cm²","x":-0.85,"y":0.007},{"s":"1.3 mJ/cm²","x":-0.8,"y":0.009},{"s":"1.3 mJ/cm²","x":-0.75,"y":0.006},{"s":"1.3 mJ/cm²","x":-0.7,"y":0.008},{"s":"1.3 mJ/cm²","x":-0.65,"y":0.011},{"s":"1.3 mJ/cm²","x":-0.6,"y":0.018},{"s":"1.3 mJ/cm²","x":-0.55,"y":0.034},{"s":"1.3 mJ/cm²","x":-0.5,"y":0.06},{"s":"1.3 mJ/cm²","x":-0.45,"y":0.11},{"s":"1.3 mJ/cm²","x":-0.4,"y":0.19},{"s":"1.3 mJ/cm²","x":-0.35,"y":0.31},{"s":"1.3 mJ/cm²","x":-0.3,"y":0.48},{"s":"1.3 mJ/cm²","x":-0.25,"y":0.68},{"s":"1.3 mJ/cm²","x":-0.2,"y":0.82},{"s":"1.3 mJ/cm²","x":-0.13,"y":0.93},{"s":"1.3 mJ/cm²","x":-0.05,"y":0.9},{"s":"1.3 mJ/cm²","x":0.0,"y":0.85},{"s":"1.3 mJ/cm²","x":0.13,"y":0.725},{"s":"1.3 mJ/cm²","x":0.2,"y":0.63},{"s":"1.3 mJ/cm²","x":0.3,"y":0.53},{"s":"1.3 mJ/cm²","x":0.4,"y":0.43},{"s":"1.3 mJ/cm²","x":0.47,"y":0.37},{"s":"1.3 mJ/cm²","x":0.55,"y":0.32},{"s":"1.3 mJ/cm²","x":0.64,"y":0.277},{"s":"1.3 mJ/cm²","x":0.72,"y":0.245},{"s":"1.3 mJ/cm²","x":0.81,"y":0.21},{"s":"1.3 mJ/cm²","x":0.9,"y":0.19},{"s":"1.3 mJ/cm²","x":0.98,"y":0.17},{"s":"1.3 mJ/cm²","x":1.06,"y":0.16},{"s":"1.3 mJ/cm²","x":1.15,"y":0.15},{"s":"1.3 mJ/cm²","x":1.23,"y":0.135},{"s":"1.3 mJ/cm²","x":1.32,"y":0.124},{"s":"1.3 mJ/cm²","x":1.4,"y":0.116},{"s":"1.3 mJ/cm²","x":1.49,"y":0.106},{"s":"1.3 mJ/cm²","x":1.57,"y":0.1},{"s":"1.3 mJ/cm²","x":1.66,"y":0.09},{"s":"1.3 mJ/cm²","x":1.74,"y":0.087},{"s":"1.3 mJ/cm²","x":1.83,"y":0.083},{"s":"1.3 mJ/cm²","x":1.91,"y":0.076},{"s":"1.3 mJ/cm²","x":2.0,"y":0.071},{"s":"1.3 mJ/cm²","x":2.08,"y":0.066},{"s":"1.3 mJ/cm²","x":2.17,"y":0.06},{"s":"1.3 mJ/cm²","x":2.26,"y":0.058},{"s":"1.3 mJ/cm²","x":2.34,"y":0.056},{"s":"1.3 mJ/cm²","x":2.43,"y":0.05},{"s":"1.3 mJ/cm²","x":2.51,"y":0.047},{"s":"1.3 mJ/cm²","x":2.6,"y":0.044},{"s":"1.3 mJ/cm²","x":2.68,"y":0.04},{"s":"1.3 mJ/cm²","x":2.77,"y":0.039},{"s":"1.3 mJ/cm²","x":2.85,"y":0.037},{"s":"1.3 mJ/cm²","x":2.94,"y":0.034},{"s":"1.3 mJ/cm²","x":3.02,"y":0.032},{"s":"1.3 mJ/cm²","x":3.1,"y":0.021},{"s":"1.3 mJ/cm²","x":3.19,"y":0.0155},{"s":"1.3 mJ/cm²","x":3.28,"y":0.018},{"s":"1.3 mJ/cm²","x":3.36,"y":0.013},{"s":"1.3 mJ/cm²","x":3.53,"y":0.017},{"s":"1.3 mJ/cm²","x":3.7,"y":0.0143},{"s":"1.3 mJ/cm²","x":3.87,"y":0.011},{"s":"1.3 mJ/cm²","x":4.04,"y":0.0143},{"s":"1.3 mJ/cm²","x":4.13,"y":0.0095},{"s":"1.3 mJ/cm²","x":4.21,"y":0.007},{"s":"1.3 mJ/cm²","x":4.38,"y":0.0045},{"s":"1.3 mJ/cm²","x":4.47,"y":0.007},{"s":"1.3 mJ/cm²","x":4.55,"y":0.005},{"s":"1.3 mJ/cm²","x":4.72,"y":0.0081},{"s":"1.3 mJ/cm²","x":4.89,"y":0.006},{"s":"1.3 mJ/cm²","x":5.06,"y":0.007},{"s":"1.3 mJ/cm²","x":5.23,"y":0.0075},{"s":"1.3 mJ/cm²","x":5.4,"y":0.0095},{"s":"1.3 mJ/cm²","x":5.57,"y":0.006},{"s":"1.3 mJ/cm²","x":5.74,"y":0.007},{"s":"1.3 mJ/cm²","x":5.91,"y":0.0081},{"s":"1.3 mJ/cm²","x":6.0,"y":0.0104},

        {"s":"0.6 mJ/cm²","x":-1,"y":0.013},{"s":"0.6 mJ/cm²","x":-0.95,"y":0.01},{"s":"0.6 mJ/cm²","x":-0.9,"y":0.004},{"s":"0.6 mJ/cm²","x":-0.85,"y":0.009},{"s":"0.6 mJ/cm²","x":-0.8,"y":0.012},{"s":"0.6 mJ/cm²","x":-0.75,"y":0.005},{"s":"0.6 mJ/cm²","x":-0.7,"y":0.004},{"s":"0.6 mJ/cm²","x":-0.65,"y":0.01},{"s":"0.6 mJ/cm²","x":-0.6,"y":0.019},{"s":"0.6 mJ/cm²","x":-0.55,"y":0.036},{"s":"0.6 mJ/cm²","x":-0.5,"y":0.065},{"s":"0.6 mJ/cm²","x":-0.45,"y":0.12},{"s":"0.6 mJ/cm²","x":-0.4,"y":0.2},{"s":"0.6 mJ/cm²","x":-0.35,"y":0.33},{"s":"0.6 mJ/cm²","x":-0.3,"y":0.52},{"s":"0.6 mJ/cm²","x":-0.25,"y":0.76},{"s":"0.6 mJ/cm²","x":-0.2,"y":0.93},{"s":"0.6 mJ/cm²","x":-0.15,"y":0.92},{"s":"0.6 mJ/cm²","x":-0.1,"y":0.88},{"s":"0.6 mJ/cm²","x":-0.05,"y":0.84},{"s":"0.6 mJ/cm²","x":0.0,"y":0.79},{"s":"0.6 mJ/cm²","x":0.07,"y":0.7},{"s":"0.6 mJ/cm²","x":0.13,"y":0.62},{"s":"0.6 mJ/cm²","x":0.2,"y":0.52},{"s":"0.6 mJ/cm²","x":0.3,"y":0.43},{"s":"0.6 mJ/cm²","x":0.36,"y":0.41},{"s":"0.6 mJ/cm²","x":0.42,"y":0.4},{"s":"0.6 mJ/cm²","x":0.47,"y":0.325},{"s":"0.6 mJ/cm²","x":0.55,"y":0.37},{"s":"0.6 mJ/cm²","x":0.64,"y":0.277},{"s":"0.6 mJ/cm²","x":0.72,"y":0.236},{"s":"0.6 mJ/cm²","x":0.81,"y":0.186},{"s":"0.6 mJ/cm²","x":0.89,"y":0.146},{"s":"0.6 mJ/cm²","x":0.98,"y":0.115},{"s":"0.6 mJ/cm²","x":1.06,"y":0.098},{"s":"0.6 mJ/cm²","x":1.15,"y":0.12},{"s":"0.6 mJ/cm²","x":1.23,"y":0.124},{"s":"0.6 mJ/cm²","x":1.32,"y":0.09},{"s":"0.6 mJ/cm²","x":1.4,"y":0.083},{"s":"0.6 mJ/cm²","x":1.49,"y":0.066},{"s":"0.6 mJ/cm²","x":1.57,"y":0.071},{"s":"0.6 mJ/cm²","x":1.66,"y":0.06},{"s":"0.6 mJ/cm²","x":1.74,"y":0.063},{"s":"0.6 mJ/cm²","x":1.83,"y":0.056},{"s":"0.6 mJ/cm²","x":1.91,"y":0.04},{"s":"0.6 mJ/cm²","x":2.0,"y":0.034},{"s":"0.6 mJ/cm²","x":2.08,"y":0.032},{"s":"0.6 mJ/cm²","x":2.17,"y":0.025},{"s":"0.6 mJ/cm²","x":2.26,"y":0.021},{"s":"0.6 mJ/cm²","x":2.34,"y":0.023},{"s":"0.6 mJ/cm²","x":2.43,"y":0.0155},{"s":"0.6 mJ/cm²","x":2.51,"y":0.0196},{"s":"0.6 mJ/cm²","x":2.68,"y":0.0155},{"s":"0.6 mJ/cm²","x":2.85,"y":0.013},{"s":"0.6 mJ/cm²","x":3.02,"y":0.0143},{"s":"0.6 mJ/cm²","x":3.19,"y":0.0088},{"s":"0.6 mJ/cm²","x":3.28,"y":0.011},{"s":"0.6 mJ/cm²","x":3.36,"y":0.013},{"s":"0.6 mJ/cm²","x":3.53,"y":0.0104},{"s":"0.6 mJ/cm²","x":3.7,"y":0.011},{"s":"0.6 mJ/cm²","x":3.87,"y":0.0081},{"s":"0.6 mJ/cm²","x":4.04,"y":0.013},{"s":"0.6 mJ/cm²","x":4.21,"y":0.0045},{"s":"0.6 mJ/cm²","x":4.38,"y":0.0075},{"s":"0.6 mJ/cm²","x":4.55,"y":0.0064},{"s":"0.6 mJ/cm²","x":4.72,"y":0.0104},{"s":"0.6 mJ/cm²","x":4.89,"y":0.0045},{"s":"0.6 mJ/cm²","x":5.06,"y":0.0075},{"s":"0.6 mJ/cm²","x":5.23,"y":0.0104},{"s":"0.6 mJ/cm²","x":5.4,"y":0.007},{"s":"0.6 mJ/cm²","x":5.57,"y":0.006},{"s":"0.6 mJ/cm²","x":5.74,"y":0.0081},{"s":"0.6 mJ/cm²","x":5.91,"y":0.0088},{"s":"0.6 mJ/cm²","x":6.0,"y":0.007},

        {"s":"0.3 mJ/cm²","x":-1,"y":0.009},{"s":"0.3 mJ/cm²","x":-0.95,"y":0.011},{"s":"0.3 mJ/cm²","x":-0.9,"y":0.014},{"s":"0.3 mJ/cm²","x":-0.85,"y":0.012},{"s":"0.3 mJ/cm²","x":-0.8,"y":0.016},{"s":"0.3 mJ/cm²","x":-0.75,"y":0.015},{"s":"0.3 mJ/cm²","x":-0.7,"y":0.014},{"s":"0.3 mJ/cm²","x":-0.68,"y":0.003},{"s":"0.3 mJ/cm²","x":-0.64,"y":0.003},{"s":"0.3 mJ/cm²","x":-0.6,"y":0.02},{"s":"0.3 mJ/cm²","x":-0.55,"y":0.036},{"s":"0.3 mJ/cm²","x":-0.5,"y":0.065},{"s":"0.3 mJ/cm²","x":-0.45,"y":0.12},{"s":"0.3 mJ/cm²","x":-0.4,"y":0.21},{"s":"0.3 mJ/cm²","x":-0.35,"y":0.35},{"s":"0.3 mJ/cm²","x":-0.3,"y":0.6},{"s":"0.3 mJ/cm²","x":-0.25,"y":0.92},{"s":"0.3 mJ/cm²","x":-0.2,"y":0.86},{"s":"0.3 mJ/cm²","x":-0.13,"y":0.79},{"s":"0.3 mJ/cm²","x":-0.06,"y":0.82},{"s":"0.3 mJ/cm²","x":0.0,"y":0.79},{"s":"0.3 mJ/cm²","x":0.07,"y":0.72},{"s":"0.3 mJ/cm²","x":0.13,"y":0.67},{"s":"0.3 mJ/cm²","x":0.2,"y":0.6},{"s":"0.3 mJ/cm²","x":0.26,"y":0.53},{"s":"0.3 mJ/cm²","x":0.34,"y":0.41},{"s":"0.3 mJ/cm²","x":0.43,"y":0.35},{"s":"0.3 mJ/cm²","x":0.51,"y":0.3},{"s":"0.3 mJ/cm²","x":0.55,"y":0.256},{"s":"0.3 mJ/cm²","x":0.64,"y":0.22},{"s":"0.3 mJ/cm²","x":0.72,"y":0.17},{"s":"0.3 mJ/cm²","x":0.77,"y":0.115},{"s":"0.3 mJ/cm²","x":0.81,"y":0.124},{"s":"0.3 mJ/cm²","x":0.85,"y":0.09},{"s":"0.3 mJ/cm²","x":0.89,"y":0.077},{"s":"0.3 mJ/cm²","x":0.94,"y":0.09},{"s":"0.3 mJ/cm²","x":0.98,"y":0.083},{"s":"0.3 mJ/cm²","x":1.02,"y":0.066},{"s":"0.3 mJ/cm²","x":1.06,"y":0.077},{"s":"0.3 mJ/cm²","x":1.15,"y":0.071},{"s":"0.3 mJ/cm²","x":1.23,"y":0.056},{"s":"0.3 mJ/cm²","x":1.32,"y":0.047},{"s":"0.3 mJ/cm²","x":1.4,"y":0.037},{"s":"0.3 mJ/cm²","x":1.49,"y":0.027},{"s":"0.3 mJ/cm²","x":1.57,"y":0.037},{"s":"0.3 mJ/cm²","x":1.66,"y":0.036},{"s":"0.3 mJ/cm²","x":1.74,"y":0.032},{"s":"0.3 mJ/cm²","x":1.83,"y":0.034},{"s":"0.3 mJ/cm²","x":1.91,"y":0.029},{"s":"0.3 mJ/cm²","x":2.0,"y":0.037},{"s":"0.3 mJ/cm²","x":2.08,"y":0.032},{"s":"0.3 mJ/cm²","x":2.17,"y":0.034},{"s":"0.3 mJ/cm²","x":2.34,"y":0.032},{"s":"0.3 mJ/cm²","x":2.51,"y":0.018},{"s":"0.3 mJ/cm²","x":2.6,"y":0.025},{"s":"0.3 mJ/cm²","x":2.68,"y":0.021},{"s":"0.3 mJ/cm²","x":2.77,"y":0.027},{"s":"0.3 mJ/cm²","x":2.85,"y":0.025},{"s":"0.3 mJ/cm²","x":2.94,"y":0.0155},{"s":"0.3 mJ/cm²","x":3.02,"y":0.018},{"s":"0.3 mJ/cm²","x":3.19,"y":0.011},{"s":"0.3 mJ/cm²","x":3.36,"y":0.0143},{"s":"0.3 mJ/cm²","x":3.53,"y":0.0196},{"s":"0.3 mJ/cm²","x":3.7,"y":0.0155},{"s":"0.3 mJ/cm²","x":3.87,"y":0.0095},{"s":"0.3 mJ/cm²","x":3.96,"y":0.013},{"s":"0.3 mJ/cm²","x":4.04,"y":0.0081},{"s":"0.3 mJ/cm²","x":4.21,"y":0.006},{"s":"0.3 mJ/cm²","x":4.38,"y":0.0155},{"s":"0.3 mJ/cm²","x":4.55,"y":0.0075},{"s":"0.3 mJ/cm²","x":4.72,"y":0.0045},{"s":"0.3 mJ/cm²","x":4.89,"y":0.006},{"s":"0.3 mJ/cm²","x":5.06,"y":0.0081},{"s":"0.3 mJ/cm²","x":5.23,"y":0.006},{"s":"0.3 mJ/cm²","x":5.4,"y":0.011},{"s":"0.3 mJ/cm²","x":5.57,"y":0.013},{"s":"0.3 mJ/cm²","x":5.74,"y":0.0104},{"s":"0.3 mJ/cm²","x":5.91,"y":0.0081},{"s":"0.3 mJ/cm²","x":6.0,"y":0.006}
      ]},
      "mark": {"type": "line", "clip": true, "strokeJoin": "round"},
      "encoding": {
        "x": {"field": "x", "type": "quantitative", "scale": {"domain": [-1, 6], "nice": false, "zero": false},
              "axis": {"values": [-1,0,1,2,3,4,5,6], "labelExpr": "datum.value % 2 == 0 ? datum.label : ''", "tickSize": -4, "labelPadding": 12, "title": "Pump probe delay (ps)", "titlePadding": 3}},
        "y": {"field": "y", "type": "quantitative", "scale": {"type": "log", "domain": [0.005, 1], "nice": false},
              "axis": {"values": [0.005,0.006,0.007,0.008,0.009,0.01,0.02,0.03,0.04,0.05,0.06,0.07,0.08,0.09,0.1,0.2,0.3,0.4,0.5,0.6,0.7,0.8,0.9,1],
                       "labelExpr": "datum.value == 1 ? '1' : datum.value == 0.1 ? '0.1' : datum.value == 0.01 ? '0.01' : ''",
                       "tickSize": 3, "labelPadding": 2, "title": "ΔR/R (normalized)", "titlePadding": 4}},
        "color": {"field": "s", "type": "nominal", "scale": {"domain": ["5.0 mJ/cm²","2.5 mJ/cm²","1.3 mJ/cm²","0.6 mJ/cm²","0.3 mJ/cm²"], "range": ["#7a1014","#22b53f","#2434a6","#ff2424","#000000"]},
                  "legend": {"title": null, "orient": "none", "legendX": 165, "legendY": 5, "rowPadding": 1.4}},
        "strokeWidth": {"field": "s", "type": "nominal", "scale": {"domain": ["5.0 mJ/cm²","2.5 mJ/cm²","1.3 mJ/cm²","0.6 mJ/cm²","0.3 mJ/cm²"], "range": [2, 3, 2, 2, 2.2]},
                  "legend": {"title": null, "orient": "none", "legendX": 165, "legendY": 5, "rowPadding": 1.4}}
      }
    }
  ],
  "resolve": {"scale": {"color": "independent", "strokeWidth": "independent", "x": "independent", "y": "independent"}, "legend": {"color": "independent", "strokeWidth": "independent"}}
}
